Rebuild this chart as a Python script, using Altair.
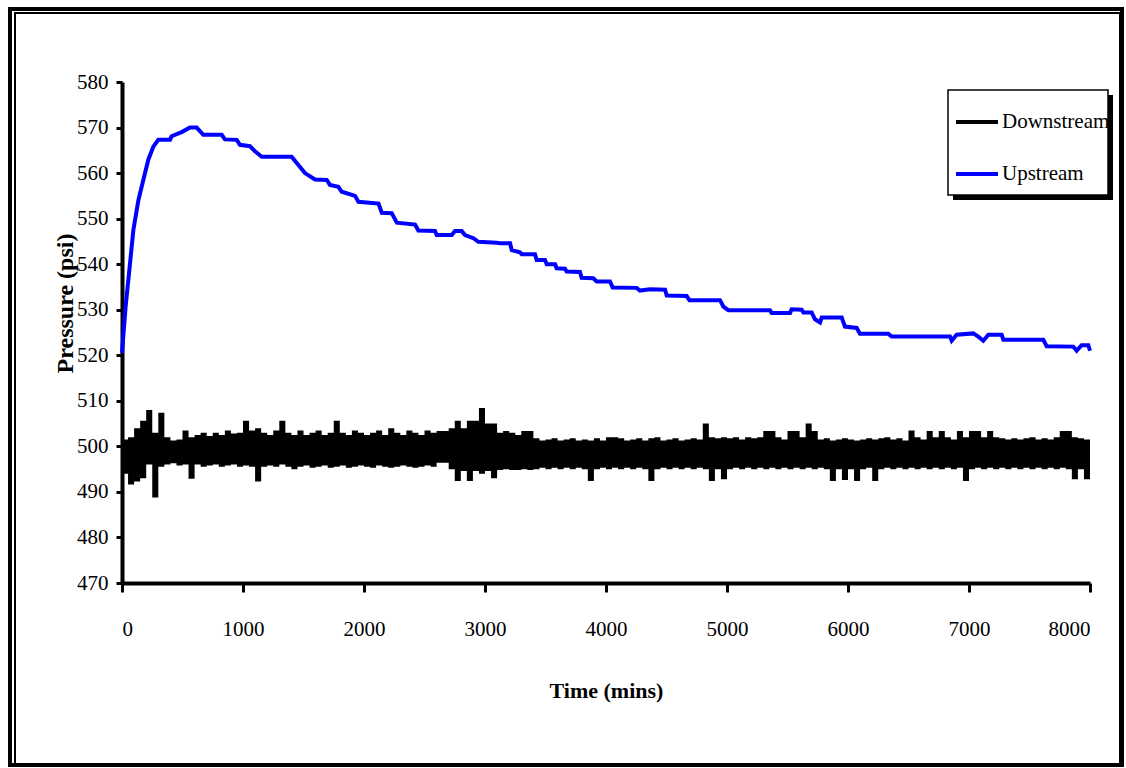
import altair as alt
import pandas as pd

# ---------------- data ----------------
up_t = [0, 30, 58, 94, 135, 176, 218, 259, 300, 397, 410, 493, 562, 617, 672, 824, 851, 948, 975,
        1058, 1099, 1155, 1402, 1444, 1512, 1595, 1692, 1719, 1788, 1816, 1926, 1954, 2120, 2147,
        2229, 2271, 2422, 2449, 2587, 2601, 2725, 2752, 2807, 2835, 2904, 2945, 3097, 3124, 3207,
        3221, 3289, 3303, 3413, 3427, 3496, 3510, 3579, 3592, 3661, 3675, 3785, 3799, 3895, 3923,
        4033, 4055, 4253, 4281, 4364, 4488, 4502, 4667, 4689, 4942, 4970, 5011, 5355, 5369, 5521,
        5534, 5617, 5631, 5700, 5727, 5769, 5783, 5948, 5975, 6072, 6099, 6333, 6361, 6843, 6857,
        6898, 7036, 7077, 7118, 7160, 7270, 7284, 7614, 7642, 7862, 7890, 7931, 7986, 8000]
up_p = [520.5, 530.7, 538, 547.5, 554, 558.5, 563, 565.8, 567.3, 567.3, 568.1, 569, 570, 570, 568.4,
        568.4, 567.4, 567.3, 566.2, 565.9, 564.8, 563.6, 563.6, 562.2, 560, 558.6, 558.5, 557.4,
        557, 555.9, 555, 553.7, 553.3, 551.3, 551.2, 549.1, 548.7, 547.4, 547.3, 546.4, 546.4,
        547.3, 547.3, 546.4, 545.7, 544.9, 544.7, 544.6, 544.6, 543.1, 542.6, 542.2, 542.2, 540.9,
        540.9, 540, 540, 539.1, 539, 538.4, 538.3, 537, 536.9, 536.2, 536.2, 534.9, 534.8, 534.2,
        534.5, 534.4, 533.1, 533, 532.1, 532.1, 530.7, 529.9, 529.9, 529.3, 529.3, 530.1, 530,
        529.4, 529.4, 527.9, 527.2, 528.3, 528.3, 526.3, 526, 524.7, 524.7, 524.1, 524.1, 523.2,
        524.5, 524.8, 524.1, 523.2, 524.5, 524.5, 523.4, 523.4, 522, 521.9, 521, 522.2, 522.2, 521]

# Downstream: noisy signal, upper / lower envelope read every 50 minutes
down_t = list(range(0, 8001, 50))
down_hi = [
    501.5, 502, 504, 505.6, 508, 503, 507.4, 502, 501.3, 501.5, 503.5, 502, 502.5, 503, 502.3, 503, 502.5, 503.5, 502.8, 503,
    505.6, 503.5, 504, 503, 502.5, 503.5, 505.6, 503, 502.5, 503.5, 502.5, 503, 503.5, 502.5, 503, 505.6, 503, 502.5, 503.5, 503,
    502.5, 503, 503.5, 502.5, 504, 503, 502.5, 503.5, 503, 502.5, 503.5, 503, 503.4, 503.4, 504, 505.6, 504, 505.6, 505.6, 508.4,
    505, 505, 503, 503.4, 503, 502.5, 503.4, 503.4, 501.8, 501.3, 501.5, 501.8, 501.3, 501.5, 501.8, 501.3, 501.5, 501.3, 501.8, 501.3,
    502, 502, 501.8, 501.3, 501.5, 501.8, 501.3, 501.8, 502, 501.3, 501.5, 501.8, 501.3, 501.5, 501.8, 501.5, 505, 502, 501.8, 502,
    501.8, 502, 501.5, 502, 501.8, 502, 503.4, 503.4, 502, 501.5, 503.4, 503.4, 502, 505, 503.4, 501.5, 501.8, 501.3, 501.5, 501.8,
    501.5, 501.3, 501.5, 501.8, 501.5, 501.8, 502, 501.5, 501.8, 501.3, 503.5, 502, 501.5, 503.4, 502, 503.4, 502, 501.5, 503.4, 502,
    503.4, 503.4, 502, 503.4, 502, 501.8, 501.5, 501.8, 501.5, 501.8, 502, 501.5, 501.8, 501.5, 502, 503.4, 503.4, 502, 501.8, 501.5,
    501.5]
down_lo = [
    494, 491.6, 492.3, 493, 496, 488.8, 495.5, 496, 496.3, 495.8, 496, 492.9, 496, 495.5, 495.8, 496, 495.5, 495.8, 496, 495.5,
    495.8, 495.5, 492.3, 495.5, 495.8, 495.5, 496, 495.5, 495, 495.5, 495.8, 495.3, 495.5, 495.8, 495.3, 495.5, 495.8, 495.3, 495.5, 495.8,
    495.5, 495.3, 495.8, 495.5, 495.3, 495.5, 495.8, 495.5, 495.3, 495.5, 495.8, 495.5, 496.4, 496.4, 495, 492.4, 494.6, 492.4, 494.6, 494,
    494.6, 493, 494.8, 495, 494.8, 494.8, 495, 494.8, 495, 495.3, 495, 495.3, 495, 495.3, 495, 495.3, 495, 492.4, 495, 495.3,
    495, 495.3, 495, 495.3, 495, 495.3, 495, 492.4, 495, 495.3, 495, 495.3, 495, 495.3, 495, 495.3, 495, 492.4, 495, 492.8,
    495, 495.3, 495, 495.3, 495, 495.3, 495, 495.3, 495, 495.3, 495, 495.3, 495, 495.3, 495, 495.3, 495, 492.4, 495, 492.6,
    495, 492.4, 495, 495.3, 492.4, 495, 495.3, 495, 495.3, 495, 495.3, 495, 495.3, 495, 495.3, 495, 495.3, 495, 495.3, 492.4,
    495, 495.3, 495, 495.3, 495, 495.3, 495, 495.3, 495, 495.3, 495, 495.3, 495, 495.3, 495, 495.3, 495, 492.8, 495, 492.8,
    495]

series_names = ["Downstream", "Upstream"]
series_colors = ["#000000", "#0000ff"]
x_ticks = [0, 1000, 2000, 3000, 4000, 5000, 6000, 7000, 8000]
y_ticks = [470, 480, 490, 500, 510, 520, 530, 540, 550, 560, 570, 580]

# ---------------- tables ----------------
up_df = pd.DataFrame({"t": up_t, "p": up_p, "series": "Upstream"})
down_df = pd.DataFrame({"t": down_t, "hi": down_hi, "lo": down_lo})
one = pd.DataFrame({"k": [0]})

FONT = "Liberation Serif"
W, H = 968, 501

xscale = alt.Scale(domain=[0, 8000], nice=False)
yscale = alt.Scale(domain=[470, 580], nice=False)

x_axis = alt.Axis(values=x_ticks, format="d", title="Time (mins)", titleFontWeight="bold", titleFontSize=22,
                  titleY=114, titleBaseline="alphabetic", labelPadding=26, tickSize=9)
y_axis = alt.Axis(values=y_ticks, format="d", title="Pressure (psi)", titleFontWeight="bold", titleFontSize=24,
                  titleY=221, titleX=-50, titleBaseline="alphabetic", titleAlign="center",
                  labelPadding=8, tickSize=6)

# decorative double frame round the chart area
frame_outer = alt.Chart(one).mark_rect(filled=False, stroke="black", strokeWidth=4).encode(
    x=alt.value(-112), x2=alt.value(1000), y=alt.value(-73), y2=alt.value(683))
frame_inner = alt.Chart(one).mark_rect(filled=False, stroke="black", strokeWidth=2).encode(
    x=alt.value(-107), x2=alt.value(998), y=alt.value(-69), y2=alt.value(682))

# legend box with shadow
legend_shadow = alt.Chart(one).mark_rect(fill="black").encode(
    x=alt.value(831), x2=alt.value(991), y=alt.value(13), y2=alt.value(118))
legend_box = alt.Chart(one).mark_rect(fill="white", stroke="black", strokeWidth=1.5).encode(
    x=alt.value(826), x2=alt.value(986), y=alt.value(8), y2=alt.value(113))

down_area = alt.Chart(down_df).mark_area(color="black", interpolate="step-after").encode(
    x=alt.X("t:Q", scale=xscale, axis=x_axis),
    y=alt.Y("lo:Q", scale=yscale, axis=y_axis),
    y2="hi:Q",
)

up_line = alt.Chart(up_df).mark_line(strokeWidth=4).encode(
    x=alt.X("t:Q", scale=xscale),
    y=alt.Y("p:Q", scale=yscale),
    color=alt.Color("series:N",
                    scale=alt.Scale(domain=series_names, range=series_colors),
                    legend=alt.Legend(title=None, orient="none", legendX=826, legendY=11,
                                      symbolType="stroke", symbolSize=1764, symbolStrokeWidth=4,
                                      labelFont=FONT, labelFontSize=21, labelColor="black",
                                      labelOffset=2, padding=6, rowPadding=19)),
)

chart = alt.layer(frame_outer, frame_inner, legend_shadow, legend_box, down_area, up_line).properties(
    width=W, height=H,
    autosize=alt.AutoSizeParams(type="none"),
    padding={"left": 122, "top": 82, "right": 36, "bottom": 185},
    background="white",
).configure_view(strokeWidth=0).configure_axis(
    labelFont=FONT, labelFontSize=21, labelColor="black",
    titleFont=FONT, titleColor="black",
    domainColor="black", domainWidth=4, tickColor="black", tickWidth=3, grid=False,
)

chart.save("out.html", embed_options={"renderer": "svg", "actions": False})
